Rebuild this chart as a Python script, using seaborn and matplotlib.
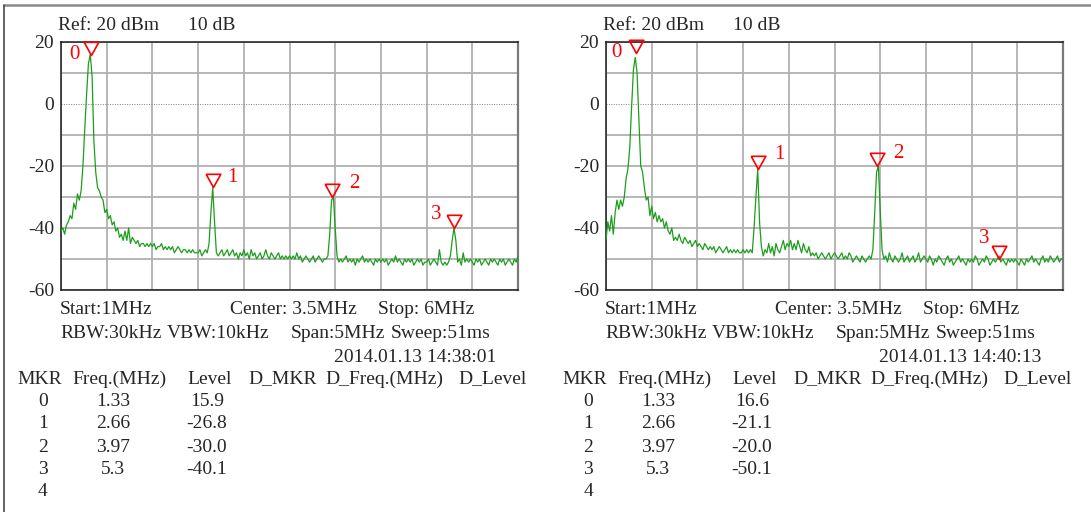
import numpy as np
import pandas as pd
import seaborn as sns
import matplotlib.pyplot as plt
from matplotlib.lines import Line2D

# sweep settings shown on the analyser screen
start_mhz, stop_mhz, n_points = 1.0, 6.0, 251
y_ticks = [-60, -40, -20, 0, 20]

# trace levels in dBm, one row per 0.5 MHz division
trace_left = (
    [-41, -40, -42, -39, -38, -36, -37, -32, -34, -29, -31, -28, -20, -8, 3, 13, 16, 9, -12, -22, -27, -28, -30, -31, -35]
    + [-34, -37, -36, -39, -38, -41, -40, -43, -42, -44, -41, -44, -40, -45, -43, -44, -45, -44, -46, -45, -45, -46, -45, -46, -45]
    + [-46, -45, -47, -46, -46, -45, -47, -46, -47, -46, -47, -46, -48, -47, -46, -47, -48, -47, -47, -48, -47, -48, -47, -48, -48]
    + [-48, -47, -49, -48, -47, -48, -45, -35, -27, -38, -48, -49, -48, -47, -49, -48, -47, -49, -48, -47, -49, -48, -50, -48, -49]
    + [-47, -49, -48, -50, -47, -49, -48, -50, -49, -48, -50, -49, -47, -49, -50, -48, -49, -50, -49, -48, -50, -49, -50, -49, -50]
    + [-49, -50, -49, -50, -48, -50, -49, -51, -50, -49, -50, -51, -50, -49, -51, -50, -49, -50, -51, -50, -50, -49, -42, -31, -30]
    + [-40, -49, -51, -50, -51, -50, -49, -51, -50, -51, -50, -52, -50, -51, -50, -49, -51, -50, -51, -50, -51, -52, -50, -51, -50]
    + [-51, -50, -51, -50, -52, -51, -50, -51, -49, -51, -50, -51, -52, -50, -51, -50, -51, -50, -52, -51, -50, -51, -50, -52, -51]
    + [-51, -50, -52, -51, -50, -51, -52, -47, -51, -52, -51, -52, -51, -49, -44, -40, -44, -51, -50, -52, -48, -51, -50, -51, -50]
    + [-51, -52, -50, -51, -50, -52, -51, -50, -51, -52, -50, -51, -50, -51, -52, -50, -51, -50, -52, -51, -50, -51, -52, -50, -51]
    + [-49]
)
trace_right = (
    [-44, -38, -41, -36, -42, -35, -31, -34, -31, -33, -30, -24, -21, -14, -1, 11, 15, 10, -5, -20, -22, -27, -31, -30, -36]
    + [-33, -37, -35, -38, -36, -38, -37, -40, -38, -41, -42, -40, -44, -43, -44, -42, -44, -45, -43, -44, -45, -44, -46, -45, -44]
    + [-46, -45, -46, -47, -45, -46, -47, -46, -47, -46, -48, -47, -46, -47, -48, -47, -46, -48, -47, -48, -47, -48, -47, -48, -48]
    + [-47, -48, -47, -48, -47, -48, -40, -30, -21, -38, -46, -49, -47, -48, -45, -48, -46, -49, -45, -47, -48, -46, -44, -47, -45]
    + [-46, -44, -47, -45, -47, -44, -46, -48, -45, -47, -48, -46, -49, -48, -49, -48, -50, -49, -48, -49, -50, -49, -48, -50, -49]
    + [-48, -49, -50, -49, -48, -50, -49, -50, -48, -49, -51, -50, -49, -50, -51, -49, -50, -51, -50, -49, -50, -47, -35, -22, -20]
    + [-34, -47, -50, -49, -51, -48, -50, -51, -49, -50, -51, -50, -48, -51, -50, -49, -51, -50, -49, -51, -50, -48, -51, -50, -49]
    + [-50, -51, -49, -50, -52, -50, -51, -49, -50, -51, -52, -50, -49, -51, -50, -52, -51, -50, -49, -51, -50, -51, -52, -50, -51]
    + [-50, -51, -49, -50, -52, -51, -50, -51, -49, -50, -52, -51, -50, -51, -50, -49, -51, -50, -51, -52, -50, -51, -50, -51, -50]
    + [-51, -52, -50, -51, -52, -50, -51, -50, -49, -51, -50, -51, -52, -50, -49, -51, -50, -51, -49, -50, -51, -50, -49, -51, -50]
    + [-50]
)

# marker table
mkr_ids = [0, 1, 2, 3]
mkr_freq = [1.33, 2.66, 3.97, 5.3]
mkr_freq_text = ["1.33", "2.66", "3.97", "5.3"]
mkr_level_left = [15.9, -26.8, -30.0, -40.1]
mkr_level_right = [16.6, -21.1, -20.0, -50.1]
timestamps = ["2014.01.13 14:38:01", "2014.01.13 14:40:13"]

W, H = 1091, 512
TRACE = "#1c9e1c"
FS = 14

sns.set_style("white")
plt.rcParams["font.family"] = ["Liberation Serif", "DejaVu Serif"]

fig = plt.figure(figsize=(W / 100, H / 100), dpi=100)


def put(txt, x, y, ha="left", **kw):
    # x, y in picture pixels
    fig.text(x / W, 1 - y / H, txt, ha=ha, va="center", fontsize=FS, **kw)


def panel(left_px, trace, levels, label_off, stamp, dx):
    ax = fig.add_axes([left_px / W, 1 - 290 / H, 457 / W, 248 / H])
    freq = np.linspace(start_mhz, stop_mhz, n_points)
    df = pd.DataFrame({"freq": freq, "level": trace})
    sns.lineplot(data=df, x="freq", y="level", ax=ax, color=TRACE, linewidth=0.9, zorder=3)

    ax.set_xlim(start_mhz, stop_mhz)
    ax.set_ylim(-60, 20)
    ax.set_xticks(np.arange(start_mhz, stop_mhz + 0.01, 0.5))
    ax.set_xticklabels([])
    ax.set_yticks(np.arange(-60, 21, 10))
    ax.set_yticklabels([str(v) if v in y_ticks else "" for v in range(-60, 21, 10)])
    ax.tick_params(length=0, pad=5, labelsize=FS)
    ax.set_xlabel("")
    ax.set_ylabel("")
    ax.grid(True, color="#b0b0b0", linewidth=1.3)
    for v, gl in zip(range(-60, 21, 10), ax.get_ygridlines()):
        if v == 0:
            gl.set_color("#808080")
            gl.set_linestyle((0, (1, 1.5)))
            gl.set_linewidth(0.7)
    for side in ["top", "left", "bottom"]:
        ax.spines[side].set_color("#1a1a1a")
        ax.spines[side].set_linewidth(1.1)
    ax.spines["right"].set_color("#7a7a7a")
    ax.spines["right"].set_linewidth(1.6)

    # hollow red triangles, tip on the marker level
    tri = [(-1, 1.8), (1, 1.8), (0, 0), (-1, 1.8)]
    ax.plot(mkr_freq, levels, ls="none", marker=tri, ms=19, mfc="none",
            mec="red", mew=1.2, clip_on=False, zorder=5)
    for i, f, lv, (ox, oy) in zip(mkr_ids, mkr_freq, levels, label_off):
        ax.annotate(str(i), (f, lv), xytext=(ox * 0.72, oy * 0.72), textcoords="offset points",
                    ha="center", va="center", color="red", fontsize=FS + 1)

    put("Ref: 20 dBm", 58 + dx, 25)
    put("10 dB", 188 + dx, 25)
    put("Start:1MHz", 60 + dx, 310)
    put("Center: 3.5MHz", 230 + dx, 310)
    put("Stop: 6MHz", 378 + dx, 310)
    put("RBW:30kHz", 60 + dx, 334)
    put("VBW:10kHz", 167 + dx, 334)
    put("Span:5MHz", 291 + dx, 334)
    put("Sweep:51ms", 391 + dx, 334)
    put(stamp, 334 + dx, 357)
    for txt, x in [("MKR", 17), ("Freq.(MHz)", 72), ("Level", 187), ("D_MKR", 248),
                   ("D_Freq.(MHz)", 325), ("D_Level", 458)]:
        put(txt, x + dx, 379)
    rows_y = [401.5, 424, 447, 470, 492]
    for k, y in enumerate(rows_y):
        put(str(k), 43 + dx, y, ha="center")
        if k < len(mkr_ids):
            put(mkr_freq_text[k], 113 + dx, y, ha="center")
            put(f"{levels[k]:.1f}", 207 + dx, y, ha="center")
    return ax


panel(61, trace_left, mkr_level_left, [(-17, 0), (20, 10), (22, 13), (-18, 14)], timestamps[0], 0)
panel(606, trace_right, mkr_level_right, [(-20, 0), (22, 15), (21, 13), (-15, 21)], timestamps[1], 545)

# outer frame of the screenshot
fig.add_artist(Line2D([4 / W, 1], [1 - 5 / H, 1 - 5 / H], color="#8a8a8a", linewidth=1.8))
fig.add_artist(Line2D([4 / W, 4 / W], [1 - 5 / H, 0], color="#3a3a3a", linewidth=1.1))

fig.savefig("out.png", dpi=100)
